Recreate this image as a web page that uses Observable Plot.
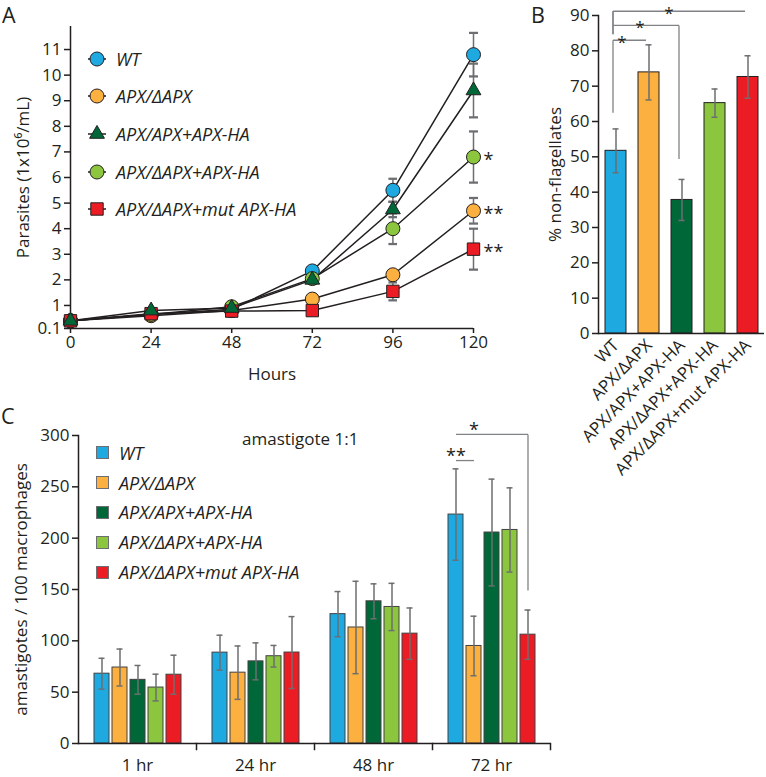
<!DOCTYPE html>
<html>
<head>
<meta charset="utf-8">
<script src="https://cdn.jsdelivr.net/npm/d3@7"></script>
<script src="https://cdn.jsdelivr.net/npm/@observablehq/plot@0.6"></script>
<style>
  html, body { margin:0; padding:0; background:#fff; }
  #fig { position:relative; width:766px; height:777px; overflow:hidden; font-family:"Open Sans", sans-serif; color:#231f20; }
  #fig > * { position:absolute; }
  .letter { font-size:21.5px; line-height:normal; }
  .legend { font-style:italic; font-size:18px; }
  .legend .row { display:flex; align-items:center; white-space:nowrap; }
  .legend svg { overflow:visible; }
</style>
</head>
<body>
<div id="fig"></div>
<script>
const FONT = '"Open Sans", sans-serif';
const INK = "#231f20";
const ERR = "#6d6e71";

// ---------- shared categories ----------
const strains = ["WT", "APX/ΔAPX", "APX/APX+APX-HA", "APX/ΔAPX+APX-HA", "APX/ΔAPX+mut APX-HA"];
const strainColors = ["#1fa9e1", "#fbb040", "#006838", "#8cc63f", "#ec1c24"];
const strainSymbols = ["circle", "circle", "triangle", "circle", "square"];

// ---------- Panel A: growth curves ----------
const hours = [0, 24, 48, 72, 96, 120];
const yTicksA = [0.1, 1, 2, 3, 4, 5, 6, 7, 8, 9, 10, 11];
const growthWT       = [0.4, 0.65, 0.85, 2.35, 5.5, 10.8];
const growthAPXd     = [0.4, 0.6, 0.8, 1.25, 2.2, 4.7];
const growthAPXAPXHA = [0.4, 0.8, 0.9, 2.0, 4.75, 9.4];
const growthAPXdHA   = [0.4, 0.65, 0.95, 2.05, 4.0, 6.8];
const growthAPXdMut  = [0.4, 0.68, 0.78, 0.8, 1.55, 3.2];
const growthErrWT       = [0, 0, 0, 0.1, 0.45, 0.85];
const growthErrAPXd     = [0, 0, 0, 0.1, 0.15, 0.5];
const growthErrAPXAPXHA = [0, 0, 0, 0.15, 0.3, 1.05];
const growthErrAPXdHA   = [0, 0, 0, 0.1, 0.6, 1.0];
const growthErrAPXdMut  = [0, 0, 0, 0.15, 0.35, 0.8];
const starsA = [
  {strain: "APX/ΔAPX+APX-HA", label: "*"},
  {strain: "APX/ΔAPX", label: "**"},
  {strain: "APX/ΔAPX+mut APX-HA", label: "**"}
];

// ---------- Panel B: % non-flagellates ----------
const pctNonFlag = [51.7, 73.9, 37.8, 65.2, 72.6];
const pctNonFlagErr = [6.2, 7.8, 5.8, 4.0, 6.0];
const yTicksB = [0, 10, 20, 30, 40, 50, 60, 70, 80, 90];
const bracketsB = [
  {from: "WT", to: "APX/ΔAPX", y: 83, fromLow: 62.5, fromTop: 83, toLow: null, label: "*", starAt: "WT"},
  {from: "WT", to: "APX/APX+APX-HA", y: 87.2, fromLow: 84.7, fromTop: 91.2, toLow: 49.4, label: "*", starAt: "APX/ΔAPX"},
  {from: "WT", to: "APX/ΔAPX+mut APX-HA", y: 91.2, fromLow: 84.7, fromTop: 91.2, toLow: null, label: "*", starAt: "APX/APX+APX-HA"}
];
const starDxB = [6, -9, -13];

// ---------- Panel C: amastigotes ----------
const timepoints = ["1 hr", "24 hr", "48 hr", "72 hr"];
const yTicksC = [0, 50, 100, 150, 200, 250, 300];
const amastWT       = [68, 88.5, 126, 223];
const amastAPXd     = [74, 69, 113, 95];
const amastAPXAPXHA = [62, 80, 138.5, 205.5];
const amastAPXdHA   = [54.5, 85, 133, 208];
const amastAPXdMut  = [67, 88.6, 107, 106];
const amastErrWT       = [15, 17, 22, 44.5];
const amastErrAPXd     = [18, 26, 45, 29];
const amastErrAPXAPXHA = [14, 18, 17, 52];
const amastErrAPXdHA   = [13, 10.5, 23, 41];
const amastErrAPXdMut  = [19, 35, 25, 24];
const bracketsC = [
  {group: "72 hr", from: "WT", to: "APX/ΔAPX", y: 275.6, toLow: null, label: "**", starAt: "WT"},
  {group: "72 hr", from: "WT", to: "APX/ΔAPX+mut APX-HA", y: 301, toLow: 149, label: "*", starAt: "APX/ΔAPX"}
];

// ---------- build tables ----------
const seriesA = [growthWT, growthAPXd, growthAPXAPXHA, growthAPXdHA, growthAPXdMut];
const errA = [growthErrWT, growthErrAPXd, growthErrAPXAPXHA, growthErrAPXdHA, growthErrAPXdMut];
const rowsA = strains.flatMap((s, i) => hours.map((h, j) => ({strain: s, hour: h, value: seriesA[i][j], err: errA[i][j], symbol: strainSymbols[i]})));
const rowsB = strains.map((s, i) => ({strain: s, value: pctNonFlag[i], err: pctNonFlagErr[i]}));
const seriesC = [amastWT, amastAPXd, amastAPXAPXHA, amastAPXdHA, amastAPXdMut];
const errC = [amastErrWT, amastErrAPXd, amastErrAPXAPXHA, amastErrAPXdHA, amastErrAPXdMut];
const rowsC = timepoints.flatMap((g, j) => strains.map((s, i) => ({group: g, strain: s, value: seriesC[i][j], err: errC[i][j]})));

const colorScale = {domain: strains, range: strainColors};
const fig = document.getElementById("fig");

// ---------- Panel A plot ----------
const lastHour = hours[hours.length - 1];
const valueAt = (s, h) => rowsA.find(d => d.strain === s && d.hour === h).value;
const plotA = Plot.plot({
  width: 520, height: 390,
  marginLeft: 70, marginRight: 47, marginTop: 26, marginBottom: 62,
  style: {fontFamily: FONT, fontSize: "17px", color: INK, background: "transparent", overflow: "visible"},
  x: {domain: [0, 120]},
  y: {domain: [0.1, 11.9]},
  color: colorScale,
  symbol: {domain: strains, range: strainSymbols},
  marks: [
    Plot.ruleY([0.1], {stroke: INK, strokeWidth: 1.5}),
    Plot.ruleX([0], {stroke: INK, strokeWidth: 1.5}),
    Plot.axisX({ticks: hours, tickSize: 5, tickPadding: 2, strokeWidth: 1.5, fontSize: 17, label: "Hours", labelAnchor: "center", labelArrow: "none", labelOffset: 51}),
    Plot.axisY({ticks: yTicksA, tickFormat: d => String(d), tickSize: 6, tickPadding: 3, strokeWidth: 1.5, fontSize: 17, label: "Parasites (1x10⁶/mL)", labelAnchor: "center", labelArrow: "none", labelOffset: 54}),
    Plot.line(rowsA, {x: "hour", y: "value", z: "strain", stroke: INK, strokeWidth: 1.5}),
    Plot.link(rowsA.filter(d => d.err > 0), {x1: "hour", x2: "hour", y1: d => d.value - d.err, y2: d => d.value + d.err, stroke: ERR, strokeWidth: 1.5, markerStart: "tick-x", markerEnd: "tick-x"}),
    Plot.dot(rowsA.filter(d => d.symbol !== "triangle"), {x: "hour", y: "value", fill: "strain", symbol: "strain", r: 7, stroke: INK, strokeWidth: 1}),
    Plot.dot(rowsA.filter(d => d.symbol === "triangle"), {x: "hour", y: "value", fill: "strain", symbol: "strain", r: 5.5, stroke: INK, strokeWidth: 1}),
    Plot.text(starsA, {x: () => lastHour, y: d => valueAt(d.strain, lastHour), text: "label", textAnchor: "start", dx: 10, dy: 3, fontSize: 18, fill: INK})
  ]
});
plotA.style.left = "0px"; plotA.style.top = "0px";
fig.appendChild(plotA);

// ---------- Panel B plot ----------
const segsB = bracketsB.flatMap(b => {
  const s = [
    {x1: b.from, x2: b.to, y1: b.y, y2: b.y},
    {x1: b.from, x2: b.from, y1: b.fromLow, y2: b.fromTop}
  ];
  if (b.toLow != null) s.push({x1: b.to, x2: b.to, y1: b.y, y2: b.toLow});
  return s;
});
const plotB = Plot.plot({
  width: 236, height: 480,
  marginLeft: 68, marginRight: 2, marginTop: 15, marginBottom: 147,
  style: {fontFamily: FONT, fontSize: "17px", color: INK, background: "transparent", overflow: "visible"},
  x: {domain: strains, paddingInner: 0.37, paddingOuter: 0.18},
  y: {domain: [0, 90]},
  color: colorScale,
  marks: [
    Plot.barY(rowsB, {x: "strain", y: "value", fill: "strain", stroke: INK, strokeWidth: 1}),
    Plot.ruleX(rowsB, {x: "strain", y1: d => d.value - d.err, y2: d => d.value + d.err, stroke: ERR, strokeWidth: 1.5}),
    Plot.tickY(rowsB, {x: "strain", y: d => d.value - d.err, stroke: ERR, strokeWidth: 1.5, insetLeft: 7.5, insetRight: 7.5}),
    Plot.tickY(rowsB, {x: "strain", y: d => d.value + d.err, stroke: ERR, strokeWidth: 1.5, insetLeft: 7.5, insetRight: 7.5}),
    Plot.ruleY([0], {stroke: INK, strokeWidth: 1.5}),
    Plot.frame({anchor: "left", stroke: INK, strokeWidth: 1.5}),
    Plot.axisY({ticks: yTicksB, tickSize: 6, tickPadding: 3, strokeWidth: 1.5, fontSize: 17, label: "% non-flagellates", labelAnchor: "center", labelArrow: "none", labelOffset: 50}),
    Plot.axisX({tickRotate: -45, tickSize: 0, tickPadding: 9, fontSize: 17, label: null}),
    Plot.link(segsB, {x1: "x1", x2: "x2", y1: "y1", y2: "y2", stroke: "#808285", strokeWidth: 1.3, dx: -3}),
    ...bracketsB.map((b, i) => Plot.text([b], {x: "starAt", y: "y", text: "label", dx: starDxB[i], dy: 2, fontSize: 17, fill: INK}))
  ]
});
plotB.style.left = "530px"; plotB.style.top = "0px";
fig.appendChild(plotB);

// ---------- Panel C plot ----------
const segsC = bracketsC.flatMap(b => {
  const s = [{group: b.group, x1: b.from, x2: b.to, y1: b.y, y2: b.y}];
  if (b.toLow != null) s.push({group: b.group, x1: b.to, x2: b.to, y1: b.y, y2: b.toLow});
  return s;
});
const plotC = Plot.plot({
  width: 560, height: 377,
  marginLeft: 78, marginRight: 10, marginTop: 35, marginBottom: 34,
  style: {fontFamily: FONT, fontSize: "17px", color: INK, background: "transparent", overflow: "visible"},
  fx: {domain: timepoints, padding: 0, label: null},
  x: {domain: strains, paddingInner: 0.18, paddingOuter: 0.82, axis: null},
  y: {domain: [0, 300]},
  color: colorScale,
  marks: [
    Plot.barY(rowsC, {fx: "group", x: "strain", y: "value", fill: "strain", stroke: "#414042", strokeWidth: 1}),
    Plot.ruleX(rowsC, {fx: "group", x: "strain", y1: d => d.value - d.err, y2: d => d.value + d.err, stroke: ERR, strokeWidth: 1.5}),
    Plot.tickY(rowsC, {fx: "group", x: "strain", y: d => d.value - d.err, stroke: ERR, strokeWidth: 1.5, insetLeft: 4.5, insetRight: 4.5}),
    Plot.tickY(rowsC, {fx: "group", x: "strain", y: d => d.value + d.err, stroke: ERR, strokeWidth: 1.5, insetLeft: 4.5, insetRight: 4.5}),
    Plot.ruleY([0], {stroke: INK, strokeWidth: 1.5}),
    Plot.frame({anchor: "left", facet: "super", stroke: INK, strokeWidth: 1.5}),
    Plot.frame({anchor: "right", insetTop: 308, insetBottom: -6, stroke: INK, strokeWidth: 1.5}),
    Plot.axisY({ticks: yTicksC, tickSize: 6, tickPadding: 3, strokeWidth: 1.5, fontSize: 17, label: "amastigotes / 100 macrophages", labelAnchor: "center", labelArrow: "none", labelOffset: 64}),
    Plot.axisFx({anchor: "bottom", tickSize: 0, tickPadding: 15, fontSize: 17, label: null}),
    Plot.link(segsC, {fx: "group", x1: "x1", x2: "x2", y1: "y1", y2: "y2", stroke: "#808285", strokeWidth: 1.3}),
    Plot.text(bracketsC, {fx: "group", x: "starAt", y: "y", text: "label", dy: -4, fontSize: 18, fill: INK})
  ]
});
plotC.style.left = "0px"; plotC.style.top = "400px";
fig.appendChild(plotC);

// ---------- HTML annotations: panel letters, legends, subtitle ----------
function addText(txt, cls, left, top, extra) {
  const d = document.createElement("div");
  d.className = cls; d.textContent = txt;
  d.style.left = left + "px"; d.style.top = top + "px";
  if (extra) Object.assign(d.style, extra);
  fig.appendChild(d);
  return d;
}
addText("A", "letter", 2, 0);
addText("B", "letter", 531, 0);
addText("C", "letter", 1, 401);
addText("amastigote 1:1", "", 242, 427, {fontSize: "17px", lineHeight: "24px"});

const d3Sym = {circle: d3.symbolCircle, triangle: d3.symbolTriangle, square: d3.symbolSquare};
// Legend A (line + marker swatches)
const legA = document.createElement("div");
legA.className = "legend";
legA.style.left = "88px"; legA.style.top = "40px";
strains.forEach((s, i) => {
  const row = document.createElement("div");
  row.className = "row"; row.style.height = "37.6px";
  const r = strainSymbols[i] === "triangle" ? 5.5 : 7;
  const path = d3.symbol(d3Sym[strainSymbols[i]], Math.PI * r * r)();
  row.innerHTML = `<svg width="18" height="16" viewBox="0 0 18 16"><line x1="0" x2="18" y1="8" y2="8" stroke="${INK}" stroke-width="1.5"/><path d="${path}" transform="translate(9,8)" fill="${strainColors[i]}" stroke="${INK}" stroke-width="1"/></svg><span style="margin-left:10px">${s}</span>`;
  legA.appendChild(row);
});
fig.appendChild(legA);

// Legend C (square swatches)
const legC = document.createElement("div");
legC.className = "legend";
legC.style.left = "96px"; legC.style.top = "438px";
strains.forEach((s, i) => {
  const row = document.createElement("div");
  row.className = "row"; row.style.height = "29.8px";
  row.innerHTML = `<span style="display:inline-block;width:11px;height:11px;background:${strainColors[i]};border:1px solid #6d6e71"></span><span style="margin-left:10px">${s}</span>`;
  legC.appendChild(row);
});
fig.appendChild(legC);
</script>
</body>
</html>
